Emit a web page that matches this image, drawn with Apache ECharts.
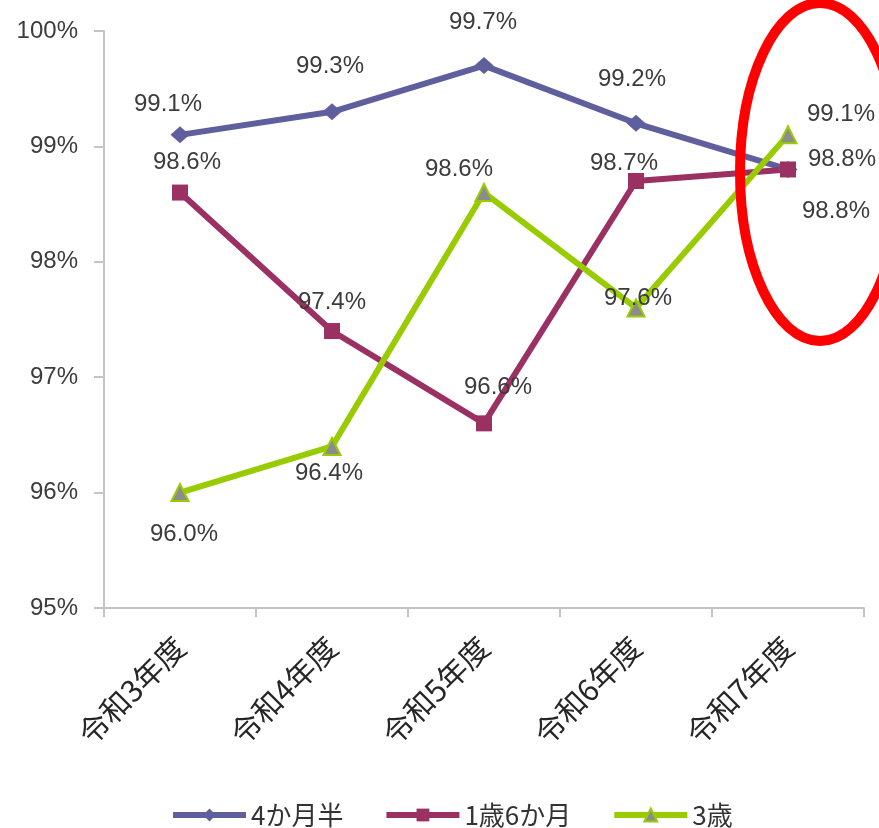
<!DOCTYPE html>
<html>
<head>
<meta charset="utf-8">
<script src="https://cdn.jsdelivr.net/npm/echarts@6/dist/echarts.min.js"></script>
<style>
html,body{margin:0;padding:0;background:#fff;}
#chart{width:879px;height:828px;}
</style>
</head>
<body>
<div id="chart"></div>
<script>
const categories = ['令和3年度', '令和4年度', '令和5年度', '令和6年度', '令和7年度'];
const seriesNames = ['4か月半', '1歳6か月', '3歳'];
const values4m = [99.1, 99.3, 99.7, 99.2, 98.8];
const values18m = [98.6, 97.4, 96.6, 98.7, 98.8];
const values3y = [96.0, 96.4, 98.6, 97.6, 99.1];
const yTicks = [95, 96, 97, 98, 99, 100];

// label offsets (style only)
const off4m = [[-12,-30],[-2,-45],[-1,-43],[-4,-44],[48,42]];
const off18m = [[7,-30],[0,-29],[14,-36],[-12,-18],[54,-10]];
const off3y = [[4,42],[-3,27],[-25,-23],[2,-10],[53,-20]];

const labelFont = { fontFamily: 'Liberation Sans', fontSize: 24, color: '#3c3c3c' };

function buildData(vals, offs) {
  return vals.map((v, i) => ({
    value: v,
    label: { offset: offs[i] }
  }));
}

const chart = echarts.init(document.getElementById('chart'), null, { renderer: 'canvas' });

const option = {
  animation: false,
  backgroundColor: '#fff',
  grid: { left: 104, right: 15, top: 31, bottom: 220, containLabel: false },
  xAxis: {
    type: 'category',
    data: categories,
    boundaryGap: true,
    axisLine: { lineStyle: { color: '#c4c4c4', width: 2 } },
    axisTick: { show: true, length: 9, alignWithLabel: false, lineStyle: { color: '#c4c4c4', width: 2 } },
    axisLabel: {
      rotate: 45, margin: 34, interval: 0,
      fontFamily: 'Noto Sans CJK JP', fontSize: 30, color: '#262626'
    },
    splitLine: { show: false }
  },
  yAxis: {
    type: 'value',
    min: yTicks[0], max: yTicks[yTicks.length - 1], interval: 1,
    axisLine: { show: true, lineStyle: { color: '#c4c4c4', width: 2 } },
    axisTick: { show: true, length: 10, lineStyle: { color: '#c4c4c4', width: 2 } },
    axisLabel: {
      margin: 26, formatter: '{value}%',
      fontFamily: 'Liberation Sans', fontSize: 24, color: '#3c3c3c'
    },
    splitLine: { show: false }
  },
  legend: {
    left: 165, top: 797,
    itemWidth: 73, itemHeight: 16, itemGap: 40,
    itemTextGap: 4,
    textStyle: { fontFamily: 'Noto Sans CJK JP', fontSize: 26, color: '#333' },
    lineStyle: { width: 6 },
    data: seriesNames
  },
  series: [
    {
      name: seriesNames[0], type: 'line',
      data: buildData(values4m, off4m),
      symbol: 'diamond', symbolSize: [19, 17],
      lineStyle: { color: '#5f5f9e', width: 6 },
      itemStyle: { color: '#5f5f9e' },
      label: Object.assign({ show: true, position: 'inside', formatter: p => p.value.toFixed(1) + '%' }, labelFont)
    },
    {
      name: seriesNames[1], type: 'line',
      data: buildData(values18m, off18m),
      symbol: 'rect', symbolSize: 16,
      lineStyle: { color: '#9b3063', width: 6 },
      itemStyle: { color: '#9b3063' },
      label: Object.assign({ show: true, position: 'inside', formatter: p => p.value.toFixed(1) + '%' }, labelFont)
    },
    {
      name: seriesNames[2], type: 'line',
      data: buildData(values3y, off3y),
      symbol: 'triangle', symbolSize: 17,
      lineStyle: { color: '#99cc00', width: 6 },
      itemStyle: { color: '#8c8c8c', borderColor: '#99cc00', borderWidth: 2 },
      label: Object.assign({ show: true, position: 'inside', formatter: p => p.value.toFixed(1) + '%' }, labelFont)
    }
  ],
  graphic: [
    {
      type: 'ellipse',
      shape: { cx: 820, cy: 172, rx: 80, ry: 169 },
      style: { fill: 'none', stroke: '#ff0000', lineWidth: 10 },
      z: 100
    }
  ]
};
chart.setOption(option);
</script>
</body>
</html>
